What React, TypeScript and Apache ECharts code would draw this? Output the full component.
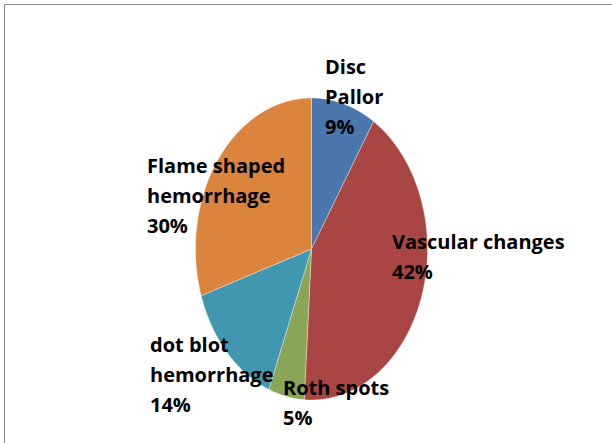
import React, { useEffect, useRef } from "react";
import * as echarts from "echarts";

// ---- data ----
const categories = ["Disc\nPallor", "Vascular changes", "Roth spots", "dot blot\nhemorrhage", "Flame shaped\nhemorrhage"];
const values = [9, 42, 5, 14, 30];
const colors = ["#4A78AE", "#A94643", "#8AA556", "#4297B0", "#DB843D"];

// ---- layout (positions of labels, ellipse geometry) ----
const labelPos: [number, number][] = [
  [325, 66],
  [392, 241],
  [283, 387],
  [150, 344],
  [147, 165],
];
const CX = 311.5;
const CY = 249;
const RX = 116;
const RY = 151;
const LINE_H = 30;

export default function App() {
  const ref = useRef<HTMLDivElement>(null);
  useEffect(() => {
    if (!ref.current) return;
    const chart = echarts.init(ref.current, undefined, { renderer: "svg" });
    const total = values.reduce((a, b) => a + b, 0);
    const starts: number[] = [];
    let acc = 0;
    values.forEach((v) => {
      starts.push(acc);
      acc += v;
    });

    const labels = categories.map((c, i) => {
      const pct = Math.round((values[i] / total) * 100) + "%";
      return {
        type: "text",
        z: 100,
        x: labelPos[i][0],
        y: labelPos[i][1] - LINE_H / 2,
        style: {
          text: c + "\n" + pct,
          fill: "#000",
          font: "bold 20px 'Open Sans'",
          lineHeight: LINE_H,
          align: "left",
          verticalAlign: "top",
        },
      };
    });

    chart.setOption({
      animation: false,
      backgroundColor: "#fff",
      graphic: [
        {
          type: "rect",
          z: 50,
          shape: { x: 4.5, y: 4.5, width: 800, height: 800 },
          style: { fill: "none", stroke: "#8A8A8A", lineWidth: 1 },
          silent: true,
        },
        ...labels,
      ],
      series: [
        {
          type: "custom",
          coordinateSystem: "none",
          data: values.map((v, i) => ({ value: v, name: categories[i] })),
          renderItem: (params: any, api: any) => {
            const i = params.dataIndex;
            const v = api.value(0);
            const t0 = (starts[i] / total) * Math.PI * 2;
            const t1 = ((starts[i] + v) / total) * Math.PI * 2;
            const n = Math.max(4, Math.ceil(((t1 - t0) * 180) / Math.PI / 0.5));
            const pts: number[][] = [[CX, CY]];
            for (let k = 0; k <= n; k++) {
              const t = t0 + ((t1 - t0) * k) / n;
              pts.push([CX + RX * Math.sin(t), CY - RY * Math.cos(t)]);
            }
            return {
              type: "polygon",
              shape: { points: pts },
              style: { fill: colors[i], stroke: "rgba(255,255,255,0.6)", lineWidth: 0.6 },
            };
          },
        },
      ],
    });
    return () => chart.dispose();
  }, []);
  return (
    <div
      ref={ref}
      style={{ position: "fixed", left: 0, top: 0, width: 612, height: 443, background: "#fff" }}
    />
  );
}
